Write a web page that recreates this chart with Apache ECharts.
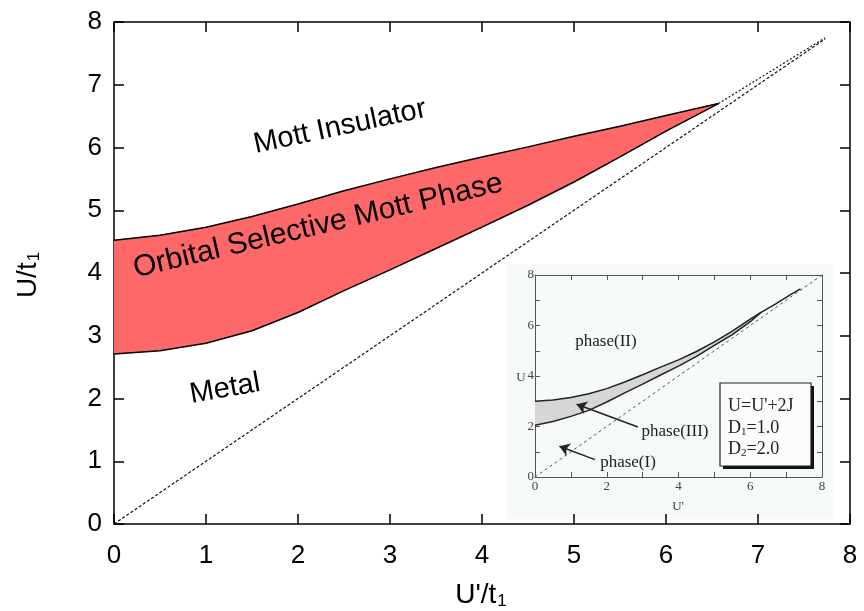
<!DOCTYPE html>
<html>
<head>
<meta charset="utf-8">
<script src="https://cdn.jsdelivr.net/npm/echarts@6/dist/echarts.min.js"></script>
<style>html,body{margin:0;padding:0;background:#fff}#c{width:864px;height:611px}</style>
</head>
<body>
<div id="c"></div>
<script>
// ---- main phase diagram data ----
const uPrime = [0, 0.5, 1, 1.5, 2, 2.5, 3, 3.5, 4, 4.5, 5, 5.5, 6, 6.57];
const upperU = [4.52, 4.60, 4.73, 4.90, 5.10, 5.31, 5.50, 5.68, 5.85, 6.01, 6.18, 6.34, 6.51, 6.70];
const lowerU = [2.71, 2.76, 2.88, 3.08, 3.37, 3.72, 4.05, 4.39, 4.73, 5.08, 5.45, 5.85, 6.26, 6.70];
const diagX = [0, 7.73];
const diagU = [0, 7.73];
const beyondX = [6.57, 7.73];
const beyondU = [6.70, 7.75];
const mainTicks = ['0', '1', '2', '3', '4', '5', '6', '7', '8'];

// ---- inset data ----
const insetUpperX = [0, 0.5, 1, 1.5, 2, 2.5, 3, 3.5, 4, 4.5, 5, 5.5, 6, 6.3, 6.7, 7.1, 7.4];
const insetUpperU = [3.0, 3.05, 3.15, 3.3, 3.5, 3.76, 4.05, 4.35, 4.64, 4.97, 5.35, 5.78, 6.25, 6.52, 6.85, 7.2, 7.45];
const insetLowerX = [0, 0.5, 1, 1.5, 2, 2.5, 3, 3.5, 4, 4.5, 5, 5.5, 6, 6.3];
const insetLowerU = [2.05, 2.2, 2.4, 2.64, 2.97, 3.33, 3.68, 4.04, 4.39, 4.78, 5.21, 5.64, 6.15, 6.52];
const insetDiagX = [0, 8];
const insetDiagU = [0, 8];
const arrowIII = [[2.87, 1.98], [1.16, 2.88]];
const arrowI = [[1.67, 0.69], [0.68, 1.22]];
const insetTicks = ['0', '2', '4', '6', '8'];

const zip = (xs, ys) => xs.map((x, i) => [x, ys[i]]);

function bandItem(xsU, ysU, xsL, ysL, fill) {
  return function (params, api) {
    const pts = [];
    for (let i = 0; i < xsU.length; i++) pts.push(api.coord([xsU[i], ysU[i]]));
    for (let i = xsL.length - 1; i >= 0; i--) pts.push(api.coord([xsL[i], ysL[i]]));
    return { type: 'polygon', shape: { points: pts }, style: { fill: fill, stroke: null } };
  };
}

const SANS = 'Liberation Sans, Arial, Helvetica, sans-serif';
const SERIF = 'Liberation Serif, Times New Roman, serif';

const mainAxisCommon = {
  min: 0, max: 8, interval: 1,
  axisLine: { show: true, onZero: false, lineStyle: { color: '#000', width: 1.5 } },
  axisTick: { show: true, inside: true, length: 10, lineStyle: { color: '#000', width: 1.5 } },
  splitLine: { show: false }
};
const insetAxisCommon = {
  min: 0, max: 8, interval: 2,
  axisLine: { show: true, onZero: false, lineStyle: { color: '#555', width: 1 } },
  axisTick: { show: true, inside: true, length: 5, lineStyle: { color: '#555', width: 1 } },
  minorTick: { show: true, splitNumber: 2, length: 5, lineStyle: { color: '#555', width: 1 } },
  splitLine: { show: false }
};

const chart = echarts.init(document.getElementById('c'), null, { renderer: 'canvas' });
chart.setOption({
  animation: false,
  backgroundColor: '#fff',
  grid: [
    { left: 114, top: 22, width: 736, height: 502 },
    { left: 535, top: 275, width: 287, height: 202 }
  ],
  xAxis: [
    Object.assign({}, mainAxisCommon, { type: 'value', gridIndex: 0, position: 'bottom',
      axisLabel: { fontSize: 26, color: '#000', fontFamily: SANS, margin: 19,
        formatter: v => mainTicks[Math.round(v)] } }),
    Object.assign({}, mainAxisCommon, { type: 'value', gridIndex: 0, position: 'top', axisLabel: { show: false } }),
    Object.assign({}, insetAxisCommon, { type: 'value', gridIndex: 1, position: 'bottom',
      axisLabel: { fontSize: 13, color: '#444', fontFamily: SERIF, margin: 3,
        formatter: v => insetTicks[Math.round(v / 2)] } }),
    Object.assign({}, insetAxisCommon, { type: 'value', gridIndex: 1, position: 'top', axisLabel: { show: false } })
  ],
  yAxis: [
    Object.assign({}, mainAxisCommon, { type: 'value', gridIndex: 0, position: 'left',
      axisLabel: { fontSize: 26, color: '#000', fontFamily: SANS, margin: 12,
        formatter: v => mainTicks[Math.round(v)] } }),
    Object.assign({}, mainAxisCommon, { type: 'value', gridIndex: 0, position: 'right', axisLabel: { show: false } }),
    Object.assign({}, insetAxisCommon, { type: 'value', gridIndex: 1, position: 'left',
      axisLabel: { fontSize: 13, color: '#444', fontFamily: SERIF, margin: 1,
        formatter: v => insetTicks[Math.round(v / 2)] } }),
    Object.assign({}, insetAxisCommon, { type: 'value', gridIndex: 1, position: 'right', axisLabel: { show: false } })
  ],
  series: [
    { type: 'custom', xAxisIndex: 0, yAxisIndex: 0, z: 1, silent: true,
      renderItem: bandItem(uPrime, upperU, uPrime, lowerU, '#ff6868'),
      data: [[uPrime[0], upperU[0]]] },
    { type: 'line', xAxisIndex: 0, yAxisIndex: 0, data: zip(uPrime, upperU), showSymbol: false, z: 3,
      lineStyle: { color: '#000', width: 1.5 } },
    { type: 'line', xAxisIndex: 0, yAxisIndex: 0, data: zip(uPrime, lowerU), showSymbol: false, z: 3,
      lineStyle: { color: '#000', width: 1.5 } },
    { type: 'line', xAxisIndex: 0, yAxisIndex: 0, data: zip(diagX, diagU), showSymbol: false, z: 3,
      lineStyle: { color: '#111', width: 1.2, type: [3, 2] } },
    { type: 'line', xAxisIndex: 0, yAxisIndex: 0, data: zip(beyondX, beyondU), showSymbol: false, z: 3,
      lineStyle: { color: '#111', width: 1.2, type: [2, 2] } },

    { type: 'custom', xAxisIndex: 2, yAxisIndex: 2, z: 11, silent: true,
      renderItem: bandItem(insetUpperX.slice(0, 14), insetUpperU.slice(0, 14), insetLowerX, insetLowerU, '#d6d6d6'),
      data: [[insetUpperX[0], insetUpperU[0]]] },
    { type: 'line', xAxisIndex: 2, yAxisIndex: 2, data: zip(insetUpperX, insetUpperU), showSymbol: false, z: 12,
      lineStyle: { color: '#222', width: 1.5 } },
    { type: 'line', xAxisIndex: 2, yAxisIndex: 2, data: zip(insetLowerX, insetLowerU), showSymbol: false, z: 12,
      lineStyle: { color: '#222', width: 1.5 } },
    { type: 'line', xAxisIndex: 2, yAxisIndex: 2, data: zip(insetDiagX, insetDiagU), showSymbol: false, z: 12,
      lineStyle: { color: '#555', width: 1, type: [3, 3] } },
    { type: 'lines', coordinateSystem: 'cartesian2d', xAxisIndex: 2, yAxisIndex: 2, z: 13,
      symbol: ['none', 'arrow'], symbolSize: 10,
      lineStyle: { color: '#222', width: 1.5, opacity: 1, curveness: 0 },
      data: [{ coords: arrowIII }, { coords: arrowI }] }
  ],
  graphic: [
    { type: 'rect', z: -1, silent: true, shape: { x: 507, y: 264, width: 327, height: 255 },
      style: { fill: '#f7fafa' } },
    // axis names
    { type: 'text', x: 28, y: 275, rotation: Math.PI / 2, z: 20,
      style: { text: '{a|U/t}{b|1}', align: 'center', verticalAlign: 'middle',
        rich: { a: { fontSize: 28, fontFamily: SANS, fill: '#000', lineHeight: 34 },
                b: { fontSize: 17, fontFamily: SANS, fill: '#000', lineHeight: 34, padding: [12, 0, 0, 1] } } } },
    { type: 'text', x: 481, y: 595, z: 20,
      style: { text: "{a|U'/t}{b|1}", align: 'center', verticalAlign: 'middle',
        rich: { a: { fontSize: 28, fontFamily: SANS, fill: '#000', lineHeight: 34 },
                b: { fontSize: 17, fontFamily: SANS, fill: '#000', lineHeight: 34, padding: [12, 0, 0, 1] } } } },
    // region labels
    { type: 'text', x: 340, y: 127, rotation: 12 * Math.PI / 180, z: 20,
      style: { text: 'Mott Insulator', align: 'center', verticalAlign: 'middle', fontSize: 29, fontFamily: SANS, fill: '#000' } },
    { type: 'text', x: 318, y: 226, rotation: 13.2 * Math.PI / 180, z: 20,
      style: { text: 'Orbital Selective Mott Phase', align: 'center', verticalAlign: 'middle', fontSize: 30, fontFamily: SANS, fill: '#000' } },
    { type: 'text', x: 225, y: 389, rotation: 10 * Math.PI / 180, z: 20,
      style: { text: 'Metal', align: 'center', verticalAlign: 'middle', fontSize: 29, fontFamily: SANS, fill: '#000' } },
    // inset labels
    { type: 'text', x: 606, y: 342, z: 20,
      style: { text: 'phase(II)', align: 'center', verticalAlign: 'middle', fontSize: 17, fontFamily: SERIF, fill: '#222' } },
    { type: 'text', x: 675, y: 432, z: 20,
      style: { text: 'phase(III)', align: 'center', verticalAlign: 'middle', fontSize: 17, fontFamily: SERIF, fill: '#222' } },
    { type: 'text', x: 628, y: 463, z: 20,
      style: { text: 'phase(I)', align: 'center', verticalAlign: 'middle', fontSize: 17, fontFamily: SERIF, fill: '#222' } },
    { type: 'text', x: 678, y: 507, z: 20,
      style: { text: "U'", align: 'center', verticalAlign: 'middle', fontSize: 13, fontFamily: SERIF, fill: '#444' } },
    { type: 'text', x: 521, y: 378, z: 20,
      style: { text: 'U', align: 'center', verticalAlign: 'middle', fontSize: 13, fontFamily: SERIF, fill: '#444' } },
    // inset legend box
    { type: 'rect', z: 20, shape: { x: 723, y: 386, width: 91, height: 83 }, style: { fill: '#111' } },
    { type: 'rect', z: 21, shape: { x: 720, y: 383, width: 91, height: 83 },
      style: { fill: '#fbfcfc', stroke: '#222', lineWidth: 1.2 } },
    { type: 'text', x: 728, y: 406, z: 22,
      style: { text: "U=U'+2J", align: 'left', verticalAlign: 'middle', fontSize: 18, fontFamily: SERIF, fill: '#222' } },
    { type: 'text', x: 728, y: 428, z: 22,
      style: { text: 'D{s|1}=1.0', align: 'left', verticalAlign: 'middle',
        rich: { s: { fontSize: 11, fontFamily: SERIF, fill: '#222', padding: [8, 0, 0, 0] } },
        fontSize: 18, fontFamily: SERIF, fill: '#222' } },
    { type: 'text', x: 728, y: 449, z: 22,
      style: { text: 'D{s|2}=2.0', align: 'left', verticalAlign: 'middle',
        rich: { s: { fontSize: 11, fontFamily: SERIF, fill: '#222', padding: [8, 0, 0, 0] } },
        fontSize: 18, fontFamily: SERIF, fill: '#222' } }
  ]
});
</script>
</body>
</html>
